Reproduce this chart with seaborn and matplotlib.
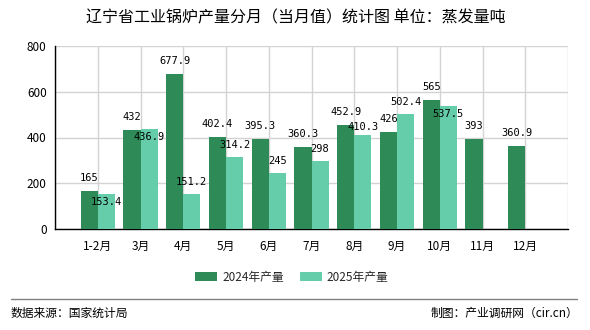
import numpy as np
import pandas as pd
import seaborn as sns
import matplotlib.pyplot as plt
from matplotlib.patches import Patch
from matplotlib.lines import Line2D

months = ["1-2月", "3月", "4月", "5月", "6月", "7月", "8月", "9月", "10月", "11月", "12月"]
v2024 = [165, 432, 677.9, 402.4, 395.3, 360.3, 452.9, 426, 565, 393, 360.9]
v2025 = [153.4, 436.9, 151.2, 314.2, 245, 298, 410.3, 502.4, 537.5, np.nan, np.nan]
series = ["2024年产量", "2025年产量"]
colors = ["#2E8B57", "#66CDAA"]
yticks = [0, 200, 400, 600, 800]
title = "辽宁省工业锅炉产量分月（当月值）统计图 单位：蒸发量吨"
source = "数据来源：国家统计局"
maker = "制图：产业调研网（cir.cn）"

df = pd.DataFrame({
    "月份": months * 2,
    "产量": v2024 + v2025,
    "系列": [series[0]] * len(months) + [series[1]] * len(months),
})

sns.set_style("white")
plt.rcParams["font.family"] = ["Noto Sans CJK SC", "DejaVu Sans"]

W, H, DPI = 590, 330, 100
fig = plt.figure(figsize=(W / DPI, H / DPI), dpi=DPI)
ax = fig.add_axes([55 / W, 1 - 229 / H, (568 - 55) / W, (229 - 46) / H])

sns.barplot(data=df, x="月份", y="产量", hue="系列", order=months, hue_order=series,
            palette=colors, saturation=1, width=0.8, errorbar=None, legend=False,
            ax=ax, zorder=3, linewidth=0)

ax.set_xlim(-1, len(months))
ax.set_ylim(0, 800)
ax.set_yticks(yticks)
ax.set_xticks(list(range(-1, len(months) + 1)))
ax.set_xticklabels([""] + months + [""], fontsize=8.5)
ax.set_yticklabels([str(t) for t in yticks], fontsize=8.5)
ax.set_xlabel("")
ax.set_ylabel("")
ax.grid(True, color="#d3d3d3", linewidth=1, zorder=0)
for s in ["top", "right"]:
    ax.spines[s].set_visible(False)
for s in ["left", "bottom"]:
    ax.spines[s].set_color("black")
    ax.spines[s].set_linewidth(1)
ax.tick_params(axis="both", direction="out", length=4, width=1, color="black",
               pad=2, labelcolor="black")
ax.tick_params(axis="x", pad=4)

# pixel per data unit
ppu = (229 - 46) / 800.0

def fmt(v):
    return f"{v:g}"

conts = ax.containers
for ci, cont in enumerate(conts):
    for bar in cont:
        h = bar.get_height()
        if h is None or np.isnan(h) or h <= 0:
            continue
        cx = bar.get_x() + bar.get_width() / 2
        idx = int(round(cx))
        if ci == 0:
            off = 13
        else:
            d = (v2024[idx] - h) * ppu
            if abs(d) >= 14:
                off = 12
            elif d >= 8:
                off = 8
            else:
                off = -8
        ax.annotate(fmt(h), (cx, h), xytext=(0, off), textcoords="offset pixels",
                    ha="center", va="center", fontsize=7.5,
                    family=["DejaVu Sans Mono"], color="black", zorder=5)

handles = [Patch(facecolor=c, edgecolor="none") for c in colors]
fs = 8.5
px = fs * DPI / 72
fig.legend(handles, series, loc="center", bbox_to_anchor=(292 / W, 1 - 277 / H),
           ncol=2, frameon=False, fontsize=fs, handlelength=22 / px,
           handleheight=9 / px, handletextpad=5 / px, columnspacing=16 / px,
           borderpad=0, borderaxespad=0)

fig.text(296 / W, 1 - 18 / H, title, ha="center", va="center", fontsize=11.5, color="black")
fig.add_artist(Line2D([11 / W, 577 / W], [1 - 299 / H, 1 - 299 / H],
                      transform=fig.transFigure, color="#808080", linewidth=1))
fig.text(11 / W, 1 - 313 / H, source, ha="left", va="center", fontsize=8.5, color="black")
fig.text(578 / W, 1 - 313 / H, maker, ha="right", va="center", fontsize=8.5, color="black")

fig.savefig("out.png", dpi=DPI)
